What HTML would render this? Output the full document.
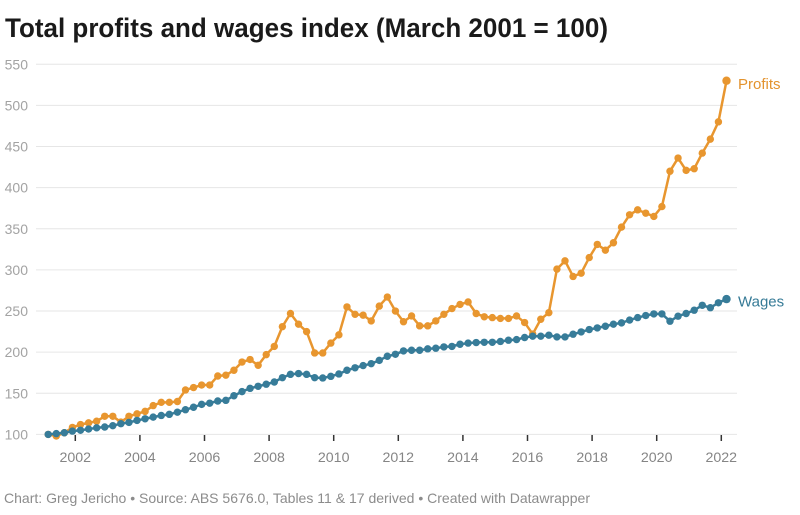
<!DOCTYPE html>
<html>
<head>
<meta charset="utf-8">
<style>
  html,body{margin:0;padding:0;background:#fff;}
  body{width:800px;height:515px;overflow:hidden;}
  svg{display:block;}
  text{font-family:"Liberation Sans",Arial,sans-serif;}
</style>
</head>
<body>
<svg id="c" width="800" height="515" viewBox="0 0 800 515" xmlns="http://www.w3.org/2000/svg">
  <text x="5" y="37" font-size="27" font-weight="bold" fill="#1a1a1a" textLength="603" lengthAdjust="spacingAndGlyphs">Total profits and wages index (March 2001 = 100)</text>
  <g id="grid" stroke="#e6e6e6" stroke-width="1"></g>
  <g id="ylab" font-size="14" fill="#a3a3a3" text-anchor="end"></g>
  <g id="ticks" stroke="#333" stroke-width="1.5"></g>
  <g id="xlab" font-size="14.2" fill="#858585" text-anchor="middle"></g>
  <g id="series"></g>
  <text x="738" y="89" font-size="15" fill="#e3932e">Profits</text>
  <text x="738" y="306.5" font-size="15" fill="#357a96">Wages</text>
  <text x="4" y="503" font-size="13.7" fill="#8c8c8c" textLength="586" lengthAdjust="spacingAndGlyphs">Chart: Greg Jericho • Source: ABS 5676.0, Tables 11 &amp; 17 derived • Created with Datawrapper</text>
</svg>
<script>
(function(){
  var NS="http://www.w3.org/2000/svg";
  function el(tag, attrs, parent, txt){
    var e=document.createElementNS(NS,tag);
    for(var k in attrs) e.setAttribute(k,attrs[k]);
    if(txt!==undefined) e.textContent=txt;
    parent.appendChild(e); return e;
  }
  function X(i){return 48.2+8.075*i;}
  function Y(v){return 434.4-0.8225*(v-100);}
  var grid=document.getElementById('grid'), ylab=document.getElementById('ylab');
  for(var v=100; v<=550; v+=50){
    var y=Y(v);
    el('line',{x1:36,x2:737,y1:y,y2:y},grid);
    el('text',{x:28,y:y+5},ylab,String(v));
  }
  var ticks=document.getElementById('ticks'), xlab=document.getElementById('xlab');
  for(var yr=2002; yr<=2022; yr+=2){
    var x=75.3+(yr-2002)*32.3;
    el('line',{x1:x,x2:x,y1:435,y2:441},ticks);
    el('text',{x:x,y:462},xlab,String(yr));
  }
  var profits=[100,98,102,108.5,112,114,116,122,122,115,122,125,128,135,139,139,140,154,157,160,160,171,172,178,188,191,184,197,207,231,247,234,225,199,199,211,221,255,246,245,238,256,267,250,237,244,232,232,238,246,253,258,261,247,243,242,241,241,244,236,222,240,248,301,311,292,296,315,331,324,333,352,367,373,369,365,377,420,436,421,423,442,459,480,530];
  var wages=[100,101,102,104,105,106.5,108,109,110.6,113,114.6,117,119,121,123,124.4,127,130,133,136.5,138,140.6,141.4,147,152,156,158.5,161,163.7,169,173,174,173,169,168.6,170.6,173.5,178,181,183.7,186,190,195,197.4,201.5,202.3,202.3,204,204.8,206.4,207,209.6,211,211.7,212,212,213,214.5,215.3,217.8,219.4,219.4,220.6,218.5,218.5,221.8,224.6,227.5,229.5,231.5,234,235.6,239,242,244.5,246.5,246.5,237.6,243.7,247,251,257,254,260,264.5];
  var series=document.getElementById('series');
  function draw(data,color){
    var g=el('g',{},series);
    var pts=data.map(function(v,i){return X(i).toFixed(2)+','+Y(v).toFixed(2);}).join(' ');
    el('polyline',{points:pts,fill:'none',stroke:color,'stroke-width':2.5,'stroke-linejoin':'round'},g);
    data.forEach(function(v,i){
      el('circle',{cx:X(i).toFixed(2),cy:Y(v).toFixed(2),r:(i===data.length-1?4.2:3.7),fill:color},g);
    });
  }
  draw(profits,'#e8962f');
  draw(wages,'#377c99');
})();
</script>
</body>
</html>
